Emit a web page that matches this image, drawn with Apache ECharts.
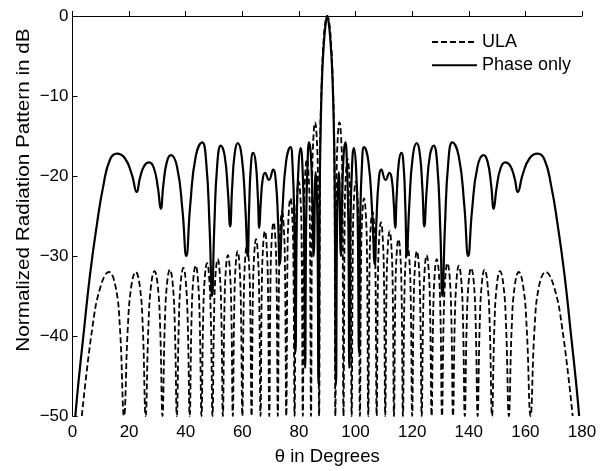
<!DOCTYPE html>
<html>
<head>
<meta charset="utf-8">
<script src="https://cdn.jsdelivr.net/npm/echarts@6/dist/echarts.min.js"></script>
<style>
html,body{margin:0;padding:0;background:#fff;}
#chart{width:614px;height:471px;}
</style>
</head>
<body>
<div id="chart"></div>
<script>
// Tick labels
var xTicks = [0, 20, 40, 60, 80, 100, 120, 140, 160, 180];
var yTicks = [-50, -40, -30, -20, -10, 0];
var seriesNames = ['ULA', 'Phase only'];
var xTitle = 'θ in Degrees';
var yTitle = 'Normalized Radiation Pattern in dB';

// ULA pattern (theta in degrees, level in dB)
var ulaTheta = [
  3.3,7.0,9.93,12.84,15.2,16.76, 18.19,
  19.53,20.77,22.33,23.79,24.84, 25.84,
  26.81,27.74,28.96,30.11,30.96, 31.79,
  32.59,33.38,34.41,35.41,36.15, 36.87,
  37.55,38.23,39.19,40.05,40.73, 41.41,
  42.03,42.66,43.53,44.32,44.95, 45.57,
  46.15,46.74,47.55,48.29,48.88, 49.46,
  50.01,50.56,51.32,52.03,52.58, 53.13,
  53.66,54.18,54.90,55.58,56.11, 56.63,
  57.14,57.64,58.33,58.99,59.49, 60.00,
  60.49,60.98,61.64,62.28,62.77, 63.26,
  63.73,64.21,64.85,65.47,65.95, 66.42,
  66.88,67.35,67.98,68.58,69.05, 69.51,
  69.96,70.42,71.03,71.63,72.09, 72.54,
  72.99,73.43,74.04,74.63,75.07, 75.52,
  75.96,76.40,77.00,77.58,78.02, 78.46,
  78.90,79.33,79.92,80.50,80.93, 81.37,
  81.80,82.24,82.82,83.39,83.83, 84.26,
  84.69,85.12,85.70,86.27,86.70, 87.13,
  87.5,88.0,88.73,89.4,90,90.6,91.27,92.0,92.5, 92.87,
  93.30,93.73,94.30,94.88,95.31, 95.74,
  96.17,96.61,97.18,97.76,98.20, 98.63,
  99.07,99.50,100.08,100.67,101.10, 101.54,
  101.98,102.42,103.00,103.60,104.04, 104.48,
  104.93,105.37,105.96,106.57,107.01, 107.46,
  107.91,108.37,108.97,109.58,110.04, 110.49,
  110.95,111.42,112.02,112.65,113.12, 113.58,
  114.05,114.53,115.15,115.79,116.27, 116.74,
  117.23,117.72,118.36,119.02,119.51, 120.00,
  120.51,121.01,121.67,122.36,122.86, 123.37,
  123.89,124.42,125.10,125.82,126.34, 126.87,
  127.42,127.97,128.68,129.44,129.99, 130.54,
  131.12,131.71,132.45,133.26,133.85, 134.43,
  135.05,135.68,136.47,137.34,137.97, 138.59,
  139.27,139.95,140.81,141.77,142.45, 143.13,
  143.85,144.59,145.59,146.62,147.41, 148.21,
  149.04,149.89,151.04,152.26,153.19, 154.16,
  155.16,156.21,157.67,159.23,160.47, 161.81,
  163.24,164.8,167.16,170.07,173.0, 176.7];
var ulaDb = [
  -50,-39,-33.8,-32.0,-33.8,-39, -50,
  -39,-33.8,-32.0,-33.8,-39, -50,
  -38.9,-33.7,-31.9,-33.7,-38.9, -50,
  -38.7,-33.5,-31.7,-33.5,-38.7, -50,
  -38.5,-33.3,-31.5,-33.3,-38.5, -50,
  -38.2,-33.0,-31.2,-33.0,-38.2, -50,
  -37.9,-32.7,-30.9,-32.7,-37.9, -50,
  -37.4,-32.2,-30.4,-32.2,-37.4, -50,
  -36.9,-31.7,-29.9,-31.7,-36.9, -50,
  -36.4,-31.2,-29.4,-31.2,-36.4, -50,
  -35.7,-30.5,-28.7,-30.5,-35.7, -50,
  -34.9,-29.7,-27.9,-29.7,-34.9, -50,
  -33.9,-28.7,-26.9,-28.7,-33.9, -50,
  -32.8,-27.6,-25.8,-27.6,-32.8, -50,
  -31.5,-26.3,-24.5,-26.3,-31.5, -50,
  -29.8,-24.6,-22.8,-24.6,-29.8, -50,
  -27.7,-22.5,-20.7,-22.5,-27.7, -50,
  -24.9,-19.7,-17.9,-19.7,-24.9, -50,
  -20.3,-15.1,-13.3,-15.1,-20.3, -50,
  -17,-8.6,-3,-0.64,0,-0.64,-3,-8.6,-17, -50,
  -20.3,-15.1,-13.3,-15.1,-20.3, -50,
  -24.9,-19.7,-17.9,-19.7,-24.9, -50,
  -27.7,-22.5,-20.7,-22.5,-27.7, -50,
  -29.8,-24.6,-22.8,-24.6,-29.8, -50,
  -31.5,-26.3,-24.5,-26.3,-31.5, -50,
  -32.8,-27.6,-25.8,-27.6,-32.8, -50,
  -33.9,-28.7,-26.9,-28.7,-33.9, -50,
  -34.9,-29.7,-27.9,-29.7,-34.9, -50,
  -35.7,-30.5,-28.7,-30.5,-35.7, -50,
  -36.4,-31.2,-29.4,-31.2,-36.4, -50,
  -36.9,-31.7,-29.9,-31.7,-36.9, -50,
  -37.4,-32.2,-30.4,-32.2,-37.4, -50,
  -37.9,-32.7,-30.9,-32.7,-37.9, -50,
  -38.2,-33.0,-31.2,-33.0,-38.2, -50,
  -38.5,-33.3,-31.5,-33.3,-38.5, -50,
  -38.7,-33.5,-31.7,-33.5,-38.7, -50,
  -38.9,-33.7,-31.9,-33.7,-38.9, -50,
  -39,-33.8,-32.0,-33.8,-39, -50,
  -39,-33.8,-32.0,-33.8,-39, -50];

// Phase-only pattern
var phaseTheta = [
  1.0,2.1,3.9,6.2,8.6,10.9,13.3,15.7,18.5,20.95,22.7,23.8,25.34,27.1,28.74,30.18,31.2,
  32.1,33.36,34.8,36.96,38.85,40.2,41.6,43.56,45.8,47.2,48.43,49.3,50.08,51.16,52.4,
  53.72,54.88,55.7,56.38,57.32,58.4,59.8,61.03,61.9,62.38,63.04,63.8,64.68,65.45,66.0,
  66.5,67.2,68.0,69.4,70.9,71.82,72.63,73.2,74.15,75.48,77.0,77.72,78.35,78.8,79.25,
  79.88,80.6,81.24,81.8,82.2,82.55,83.04,83.6,84.24,84.8,85.2,85.9,86.5,86.9,87.4,
  87.8,88.3,88.9,89.5,90,
  90.5,91.1,91.7,92.2,92.6,93.1,93.5,94.1,94.8,95.2,95.76,96.4,96.96,97.45,97.8,98.2,
  98.76,99.4,100.12,100.75,101.2,101.65,102.28,103.0,104.52,105.85,106.8,107.37,108.18,
  109.1,110.6,112.0,112.8,113.5,114.0,114.55,115.32,116.2,116.96,117.62,118.1,118.97,
  120.2,121.6,122.68,123.62,124.3,125.12,126.28,127.6,128.84,129.92,130.7,131.57,132.8,
  134.2,136.44,138.4,139.8,141.15,143.04,145.2,146.64,147.9,148.8,149.82,151.26,152.9,
  154.66,156.2,157.3,159.05,161.5,164.3,166.7,169.1,171.4,173.8,176.1,177.9,179.0];
var phaseDb = [
  -50,-45.8,-39.8,-32.3,-26.1,-21.2,-17.9,-17.2,-17.78,-19.8,-22.0,-20.3,-18.74,-18.3,-19.0,-21.5,-24.1,
  -21.1,-18.2,-17.4,-18.9,-24.3,-30,-23.6,-17.5,-15.8,-18.1,-26.4,-35,-26.5,-18.46,-16.2,
  -17.4,-21.8,-26.3,-21.6,-17.15,-15.9,-17.6,-23.7,-30,-24.2,-18.65,-17.1,-18.2,-22.3,-26.5,
  -23.4,-20.4,-19.6,-20.5,-19.2,-20.6,-25.7,-31,-24.4,-18.15,-16.4,-18.5,-25.4,-42,-25.4,
  -18.6,-16.5,-18.8,-26.1,-44,-25.7,-18.5,-15.8,-17.5,-23.6,-30,-19.5,-25,-46,-20,
  -12,-6.5,-3,-0.8,0,
  -0.8,-3,-6.5,-12,-20,-46,-25,-19.5,-30,-23.6,-17.5,-15.8,-18.5,-25.7,-44,-26.1,
  -18.8,-16.5,-18.6,-25.4,-42,-25.4,-18.5,-16.4,-18.15,-24.4,-31,-25.7,-20.6,
  -19.2,-20.5,-19.6,-20.4,-23.4,-26.5,-22.3,-18.2,-17.1,-18.65,-24.2,-30,-23.7,
  -17.6,-15.9,-17.15,-21.6,-26.3,-21.8,-17.4,-16.2,-18.46,-26.5,-35,-26.4,-18.1,
  -15.8,-17.5,-23.6,-30,-24.3,-18.9,-17.4,-18.2,-21.1,-24.1,-21.5,-19.0,-18.3,
  -18.74,-20.3,-22.0,-19.8,-17.78,-17.2,-17.9,-21.2,-26.1,-32.3,-39.8,-45.8,-50];

function pairs(xs, ys){ var out=[]; for(var i=0;i<xs.length;i++){ out.push([xs[i], ys[i]]); } return out; }
function fmtTick(v){ return v < 0 ? '\u2212' + Math.abs(v) : String(v); }

var FONT = 'Liberation Sans, Arial, sans-serif';
var chart = echarts.init(document.getElementById('chart'), null, {renderer:'canvas'});
chart.setOption({
  animation:false,
  backgroundColor:'#ffffff',
  grid:{left:72.5, right:32, top:16, bottom:52, containLabel:false},
  legend:{
    orient:'vertical', left:426, top:28, itemWidth:45, itemHeight:18, itemGap:5.3,
    itemStyle:{opacity:0},
    textStyle:{fontFamily:FONT, fontSize:18, color:'#000', lineHeight:18},
    data:[{name:seriesNames[0]},{name:seriesNames[1]}]
  },
  graphic:[{
    type:'text', x:24, y:190, rotation:Math.PI/2, scaleX:1.15,
    style:{text:yTitle, font:'18px Liberation Sans, Arial, sans-serif', fill:'#000',
           textAlign:'center', textVerticalAlign:'middle'}
  }],
  xAxis:{
    type:'value', min:xTicks[0], max:xTicks[xTicks.length-1], interval:20,
    name:xTitle, nameLocation:'middle', nameGap:31,
    nameTextStyle:{fontFamily:FONT, fontSize:18.5, color:'#000'},
    axisLine:{lineStyle:{color:'#000', width:1}},
    axisTick:{inside:true, length:5, lineStyle:{color:'#000'}},
    axisLabel:{fontFamily:FONT, fontSize:17, color:'#000', margin:8, formatter:fmtTick},
    splitLine:{show:false}
  },
  yAxis:{
    type:'value', min:yTicks[0], max:yTicks[yTicks.length-1], interval:10,
    axisLine:{show:true, lineStyle:{color:'#000', width:1}},
    axisTick:{show:true, inside:true, length:5, lineStyle:{color:'#000'}},
    axisLabel:{fontFamily:FONT, fontSize:17, color:'#000', margin:4, formatter:fmtTick},
    splitLine:{show:false}
  },
  series:[
    {name:seriesNames[0], type:'line', data:pairs(ulaTheta, ulaDb), smooth:0.45, symbol:'none', clip:true,
     lineStyle:{color:'#000', width:1.8, type:[6,3]}, itemStyle:{color:'#000'}, z:2},
    {name:seriesNames[1], type:'line', data:pairs(phaseTheta, phaseDb), smooth:0.5, symbol:'none', clip:true,
     lineStyle:{color:'#000', width:2.2}, itemStyle:{color:'#000'}, z:3}
  ]
});
</script>
</body>
</html>
